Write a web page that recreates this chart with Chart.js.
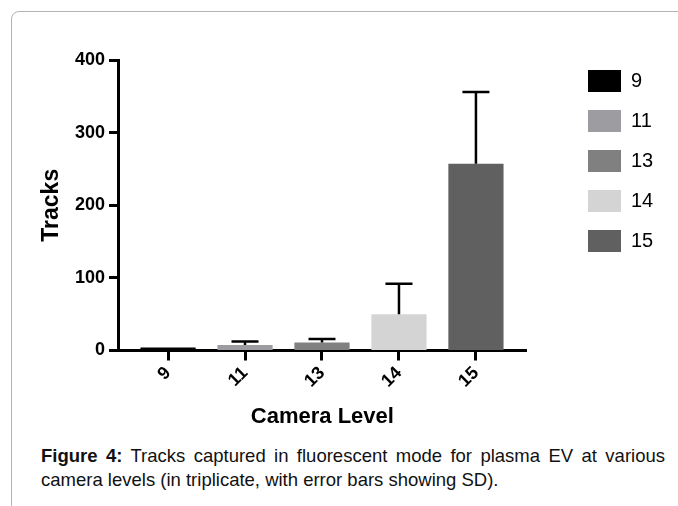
<!DOCTYPE html>
<html>
<head>
<meta charset="utf-8">
<script src="https://cdn.jsdelivr.net/npm/chart.js@4.4.1/dist/chart.umd.min.js"></script>
<style>
  html, body { margin: 0; padding: 0; background: #fff; overflow: hidden; }
  body { width: 678px; height: 506px; position: relative; font-family: "Liberation Sans", Arial, sans-serif; }
  .frame { position: absolute; left: 11px; top: 11px; width: 720px; height: 560px; border: 1px solid #b4b4b4; border-radius: 8px; }
  .chart-box { position: absolute; left: 0; top: 0; width: 678px; height: 440px; }
  .caption { position: absolute; left: 41px; top: 444px; width: 624px; margin: 0; font-size: 18.5px; line-height: 24px; text-align: justify; color: #111; }
</style>
</head>
<body>
<div class="frame"></div>
<div class="chart-box"><canvas id="chart"></canvas></div>
<p class="caption"><b>Figure 4:</b> Tracks captured in fluorescent mode for plasma EV at various camera levels (in triplicate, with error bars showing SD).</p>

<script>
const categories = ['9', '11', '13', '14', '15'];
const meanTracks = [4, 7.5, 11, 50, 257];
const sdTracks = [0, 5, 5, 42, 99];
const barColors = ['#000000', '#9d9da1', '#808080', '#d4d4d4', '#606060'];
const yTicks = [0, 100, 200, 300, 400];

Chart.defaults.font.family = "'Liberation Sans', Arial, sans-serif";
Chart.defaults.color = '#000';

// SD bars, only the upper half like Prism draws them
const errorBars = {
    id: 'errorBars',
    afterDatasetsDraw(chart) {
        const ctx = chart.ctx;
        const xs = chart.scales.x;
        const ys = chart.scales.y;
        ctx.save();
        ctx.strokeStyle = '#000';
        ctx.lineWidth = 2.5;
        meanTracks.forEach((m, i) => {
            if (!sdTracks[i]) return;
            const px = xs.getPixelForValue(i);
            const base = ys.getPixelForValue(m);
            const top = ys.getPixelForValue(m + sdTracks[i]);
            ctx.beginPath();
            ctx.moveTo(px, base);
            ctx.lineTo(px, top);
            ctx.moveTo(px - 13.5, top);
            ctx.lineTo(px + 13.5, top);
            ctx.stroke();
        });
        ctx.restore();
    }
};

// legend sits well right of the plot in the original
const legendSpot = {
    id: 'legendSpot',
    afterLayout(chart) {
        const lg = chart.legend;
        const w = lg.width;
        const h = lg.height;
        lg.left = 570;
        lg.right = lg.left + w;
        lg.top = 52;
        lg.bottom = lg.top + h;
    }
};

const tickGrid = (len) => ({
    display: true,
    offset: false,
    drawOnChartArea: false,
    drawTicks: true,
    tickLength: len,
    tickWidth: 3,
    tickColor: '#000'
});

new Chart(document.getElementById('chart'), {
    type: 'bar',
    data: {
        datasets: [{
            data: categories.map((c, i) => ({ x: i, y: meanTracks[i] })),
            backgroundColor: barColors,
            borderWidth: 0,
            barPercentage: 0.717,
            categoryPercentage: 1
        }]
    },
    options: {
        responsive: true,
        maintainAspectRatio: false,
        animation: false,
        layout: { padding: { left: 38, top: 60, right: 58, bottom: 0 } },
        plugins: {
            tooltip: { enabled: false },
            legend: {
                position: 'right',
                align: 'start',
                labels: {
                    boxWidth: 33,
                    boxHeight: 22,
                    padding: 18,
                    color: '#000',
                    font: { size: 20 },
                    generateLabels: () => categories.map((c, i) => ({
                        text: c,
                        fillStyle: barColors[i],
                        strokeStyle: barColors[i],
                        lineWidth: 0,
                        hidden: false,
                        index: i,
                        fontColor: '#000'
                    }))
                }
            }
        },
        scales: {
            x: {
                type: 'linear',
                offset: false,
                min: -0.65,
                max: 4.66,
                z: 1,
                afterBuildTicks: s => { s.ticks = categories.map((c, i) => ({ value: i })); },
                afterFit: s => { s.height = 89.5; },
                grid: tickGrid(10),
                border: { display: true, width: 3, color: '#000' },
                ticks: {
                    autoSkip: false,
                    minRotation: 45,
                    maxRotation: 45,
                    padding: 2,
                    color: '#000',
                    font: { size: 18, weight: 'bold' },
                    callback: v => categories[v]
                },
                title: {
                    display: true,
                    text: 'Camera Level',
                    color: '#000',
                    font: { size: 22, weight: 'bold' },
                    padding: { top: 0, bottom: 10 }
                }
            },
            y: {
                min: 0,
                max: 400,
                z: 1,
                afterBuildTicks: s => { s.ticks = yTicks.map(v => ({ value: v })); },
                afterFit: s => { s.width = 80; },
                grid: tickGrid(9),
                border: { display: true, width: 3, color: '#000' },
                ticks: {
                    padding: 4,
                    color: '#000',
                    font: { size: 18, weight: 'bold' }
                },
                title: {
                    display: true,
                    text: 'Tracks',
                    color: '#000',
                    font: { size: 23, weight: 'bold' },
                    padding: 0
                }
            }
        }
    },
    plugins: [errorBars, legendSpot]
});
</script>
</body>
</html>
